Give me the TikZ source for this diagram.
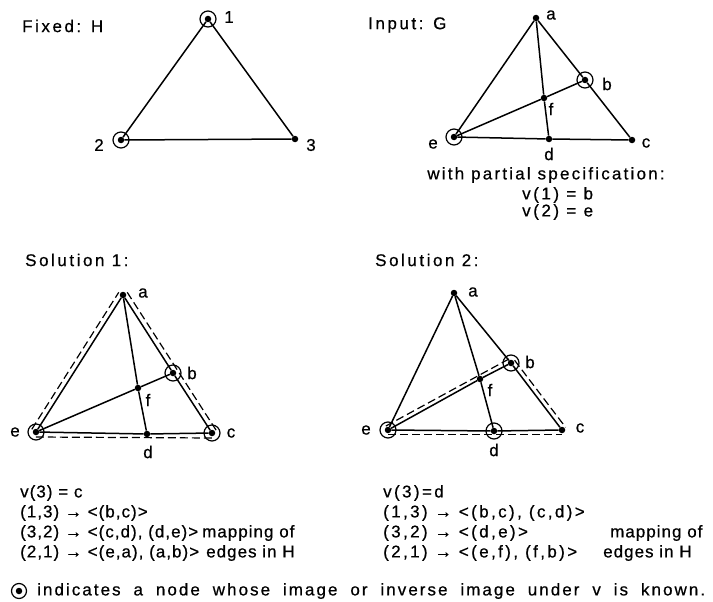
\documentclass[tikz,border=0pt]{standalone}
\usepackage{fontspec}
\setmainfont{Liberation Sans}[LetterSpace=15,FakeBold=0.6]
\newfontfamily\tightfont{Liberation Sans}[LetterSpace=6,FakeBold=0.6]
\newfontfamily\widefont{Liberation Sans}[LetterSpace=14,FakeBold=0.6]
\newfontfamily\specfont{Liberation Sans}[LetterSpace=13,FakeBold=0.6]
\newfontfamily\legfont{Liberation Sans}[LetterSpace=12,FakeBold=0.6]
\usetikzlibrary{calc}
\begin{document}
\begin{tikzpicture}[x=1pt,y=-1pt,
  dot/.style={circle,fill=black,inner sep=0pt,minimum size=6.5pt},
  ring/.style={draw,line width=1.2pt},
  edge/.style={line width=1.5pt},
  dsh/.style={line width=1.2pt,dash pattern=on 8pt off 4pt},
  lab/.style={font=\fontsize{17}{19}\selectfont,inner sep=0pt},
  txt/.style={lab,anchor=west},
  tight/.style={font=\fontsize{17}{19}\selectfont\tightfont,inner sep=0pt,anchor=west},
  wide/.style={font=\fontsize{17}{19}\selectfont\widefont,inner sep=0pt,anchor=west}]
\useasboundingbox (0,0) rectangle (713,602);

% ---------- Fixed: H ----------
\node[txt] (tH) at (22,26) {Fixed: H};
\node[dot] (h1) at (208,19) {};
\node[dot] (h2) at (121,140) {};
\node[dot] (h3) at (295,139) {};
\draw[edge] (h1) -- (h2);
\draw[edge] (h2) -- (h3);
\draw[edge] (h3) -- (h1);
\draw[ring] (h1) circle (8pt);
\draw[ring] (h2) circle (8pt);
\node[lab] (lh1) at (229,17) {1};
\node[lab] (lh2) at (99,145) {2};
\node[lab] (lh3) at (311,145) {3};

% ---------- Input: G ----------
\node[txt] (tG) at (368,25) {Input: G};
\node[dot] (ga) at (536,18) {};
\node[dot] (gb) at (585,80) {};
\node[dot] (gf) at (544,98) {};
\node[dot] (ge) at (454,137) {};
\node[dot] (gd) at (549,139) {};
\node[dot] (gc) at (632,140) {};
\node[lab] (lga) at (551,15) {a};
\node[lab] (lgb) at (607,84) {b};
\node[lab] (lgf) at (551,109) {f};
\node[lab] (lge) at (433,144) {e};
\node[lab] (lgd) at (549,154) {d};
\node[lab] (lgc) at (646,143) {c};
\draw[ring] (gb) circle (8pt);
\draw[ring] (ge) circle (8pt);
\node[lab,font=\fontsize{17}{19}\selectfont\specfont] (spec) at (546,175) {with partial specification:};
\node[txt] (v1) at (522,195) {v(1) = b};
\node[txt] (v2) at (522,212) {v(2) = e};

% ---------- Solution 1 ----------
\node[txt] (sol1) at (25,260) {Solution 1:};
\node[dot] (sa) at (123,295) {};
\node[dot] (sb) at (173,373) {};
\node[dot] (sf) at (138,388) {};
\node[dot] (se) at (36,432) {};
\node[dot] (sd) at (147,434) {};
\node[dot] (sc) at (212,433) {};
\node[lab] (lsa) at (143,293) {a};
\node[lab] (lsb) at (192,373) {b};
\node[lab] (lsf) at (148,400) {f};
\node[lab] (lse) at (15,432) {e};
\node[lab] (lsd) at (148,452) {d};
\node[lab] (lsc) at (231,433) {c};
\draw[ring] (se) circle (8pt);
\draw[ring] (sb) circle (8pt);
\draw[ring] (sc) circle (8pt);
\draw[dsh] ($(se)!5pt!90:(sa)$) -- ($(sa)!5pt!-90:(se)$);
\draw[dsh] ($(sa)!5pt!90:(sc)$) -- ($(sc)!5pt!-90:(sa)$);
\draw[dsh] ($(se)!5pt!-90:(sc)$) -- ($(sc)!5pt!90:(se)$);

% ---------- Solution 2 ----------
\node[txt] (sol2) at (375,260) {Solution 2:};
\node[dot] (ta) at (454,293) {};
\node[dot] (tb) at (511,363) {};
\node[dot] (tf) at (480,379) {};
\node[dot] (te) at (388,430) {};
\node[dot] (td) at (494,431) {};
\node[dot] (tc) at (562,430) {};
\node[lab] (lta) at (473,292) {a};
\node[lab] (ltb) at (530,362) {b};
\node[lab] (ltf) at (490,390) {f};
\node[lab] (lte) at (366,430) {e};
\node[lab] (ltd) at (494,450) {d};
\node[lab] (ltc) at (580,428) {c};
\draw[ring] (te) circle (8pt);
\draw[ring] (td) circle (8pt);
\draw[ring] (tb) circle (8pt);
\draw[dsh] ($(te)!4.5pt!90:(tb)$) -- ($(tb)!4.5pt!-90:(te)$);
\draw[dsh] ($(tb)!4.5pt!90:(tc)$) -- ($(tc)!4.5pt!-90:(tb)$);
\draw[dsh] ($(te)!4.5pt!-90:(tc)$) -- ($(tc)!4.5pt!90:(te)$);

% ---------- edges of G and its copies ----------
\foreach \p in {g,s,t}{
  \draw[edge] (\p a) -- (\p e);
  \draw[edge] (\p a) -- (\p b);
  \draw[edge] (\p b) -- (\p c);
  \draw[edge] (\p c) -- (\p d);
  \draw[edge] (\p d) -- (\p e);
  \draw[edge] (\p e) -- (\p f);
  \draw[edge] (\p f) -- (\p b);
  \draw[edge] (\p a) -- (\p f);
  \draw[edge] (\p f) -- (\p d);
}

% ---------- mappings ----------
\node[tight] (l1) at (20,493) {v(3) = c};
\node[tight] (l2) at (20,513) {(1,3) → <(b,c)>};
\node[tight] (l3) at (20,533) {(3,2) → <(c,d), (d,e)>};
\node[tight] (l4) at (20,553) {(2,1) → <(e,a), (a,b)>};
\node[tight] (lm) at (202,533) {mapping of};
\node[tight] (le) at (206,553) {edges in H};

\node[wide] (r1) at (383,493) {v(3)=d};
\node[wide] (r2) at (383,513) {(1,3) → <(b,c), (c,d)>};
\node[wide] (r3) at (383,533) {(3,2) → <(d,e)>};
\node[wide] (r4) at (383,553) {(2,1) → <(e,f), (f,b)>};
\node[tight] (rm) at (610,533) {mapping of};
\node[tight] (re) at (603,553) {edges in H};

% ---------- legend ----------
\node[dot] (legdot) at (19,591) {};
\draw[ring] (legdot) circle (7.5pt);
\node[txt,font=\fontsize{17}{19}\selectfont\legfont] (leg) at (37,591) {\makebox[668pt][s]{indicates a node whose image or inverse image under v is known.}};
\end{tikzpicture}
\end{document}
